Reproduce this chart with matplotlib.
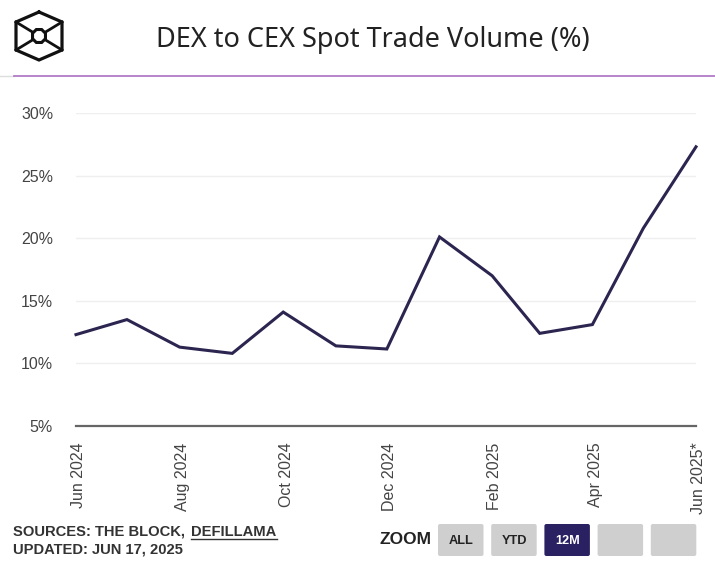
import numpy as np
import pandas as pd
import matplotlib
matplotlib.use("Agg")
import matplotlib.pyplot as plt
from matplotlib.patches import FancyBboxPatch
from matplotlib.transforms import ScaledTranslation

months = ['2024-06', '2024-07', '2024-08', '2024-09', '2024-10', '2024-11', '2024-12',
          '2025-01', '2025-02', '2025-03', '2025-04', '2025-05', '2025-06']
tick_labels = ['Jun 2024', 'Aug 2024', 'Oct 2024', 'Dec 2024', 'Feb 2025', 'Apr 2025', 'Jun 2025*']
share = [12.3, 13.5, 11.3, 10.8, 14.1, 11.4, 11.15, 20.1, 17.0, 12.4, 13.1, 20.8, 27.3]
y_ticks = [5, 10, 15, 20, 25, 30]
buttons = ['ALL', 'YTD', '12M', '', '']

W, H = 715, 567
fig = plt.figure(figsize=(W/100, H/100), dpi=100)
plt.rcParams['font.family'] = 'Liberation Sans'

# Overlay in pixel coordinates for the page furniture
page = fig.add_axes([0, 0, 1, 1])
page.set_xlim(0, W)
page.set_ylim(H, 0)
page.axis('off')

# Main plot, the x axis is a real date axis so months have uneven widths
ax = fig.add_axes([76/W, 1-426/H, (696-76)/W, (426-113)/H])
dates = pd.to_datetime(months)
ax.plot(dates, share, color='#2b2550', lw=2.2, solid_joinstyle='miter', clip_on=False, zorder=3)
ax.set_xlim(dates[0], dates[-1])
ax.set_ylim(5, 30)
ax.set_yticks(y_ticks)
ax.set_yticklabels([f'{v}%' for v in y_ticks], fontsize=11.5, color='#444444')
ax.set_xticks(dates[::2])
ax.set_xticklabels(tick_labels, rotation=90, fontsize=11.5, color='#444444')
ax.tick_params(axis='both', length=0)
ax.tick_params(axis='y', pad=16.5)
ax.tick_params(axis='x', pad=12)
shift = ScaledTranslation(2/72, 0, fig.dpi_scale_trans)
for lab in ax.get_xticklabels():
    lab.set_transform(lab.get_transform() + shift)
ax.grid(axis='y', color='#efefef', lw=1)
ax.set_axisbelow(True)
for s in ['top', 'right', 'left']:
    ax.spines[s].set_visible(False)
ax.spines['bottom'].set_color('#666666')
ax.spines['bottom'].set_linewidth(1.6)
ax.patch.set_alpha(0)

# Header
page.text(373, 40, 'DEX to CEX Spot Trade Volume (%)', ha='center', va='center',
          fontsize=19.5, color='#222222', fontfamily='Noto Sans')
page.plot([0, 14], [76, 76], color='#dddddd', lw=1)
page.plot([14, W], [76, 76], color='#b07cc8', lw=1.3)

# Logo
cx, cy = 39, 36
hex_x = cx + 23*np.array([0, 1, 1, 0, -1, -1, 0])
hex_y = cy + np.array([-24, -14, 14, 24, 14, -14, -24])
page.plot(hex_x, hex_y, color='#111111', lw=2.3, solid_joinstyle='miter')
page.plot([cx-23, cx+23], [cy-14, cy+14], color='#111111', lw=2)
page.plot([cx-23, cx+23], [cy+14, cy-14], color='#111111', lw=2)
oct_t = np.linspace(0, 2*np.pi, 9) + np.pi/8
page.fill(cx + 7*np.cos(oct_t), cy + 7*np.sin(oct_t), facecolor='white',
          edgecolor='#111111', lw=2.2, zorder=4)

# Footer
page.text(13, 532, 'SOURCES: THE BLOCK,', fontsize=10.6, fontweight='bold', color='#333333', va='center')
page.text(191, 532, 'DEFILLAMA', fontsize=10.6, fontweight='bold', color='#333333', va='center')
page.plot([191, 277], [538.5, 538.5], color='#333333', lw=1)
page.text(13, 549, 'UPDATED: JUN 17, 2025', fontsize=10.6, fontweight='bold', color='#333333', va='center')

# Zoom buttons
page.text(379, 540, 'ZOOM', fontsize=12.5, fontweight='bold', color='#222222', va='center')
for i, b in enumerate(buttons):
    left = 438 + i*53.2
    active = b == '12M'
    page.add_patch(FancyBboxPatch((left, 524), 45.5, 32, boxstyle='round,pad=0,rounding_size=2',
                                  facecolor='#2a2163' if active else '#cfcfcf', edgecolor='none'))
    page.text(left+23, 541, b, ha='center', va='center', fontsize=9.2, fontweight='bold',
              color='white' if active else '#222222')

fig.savefig('out.png', dpi=100)
